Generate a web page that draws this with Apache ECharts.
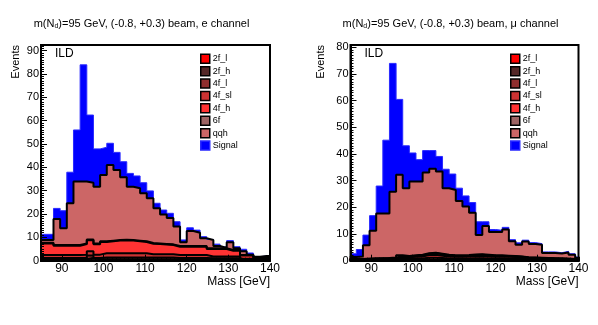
<!DOCTYPE html>
<html>
<head>
<meta charset="utf-8">
<script src="https://cdn.jsdelivr.net/npm/echarts@6/dist/echarts.min.js"></script>
<style>
  html, body { margin: 0; padding: 0; background: #ffffff; }
  #chart { width: 598px; height: 325px; }
</style>
</head>
<body>
<div id="chart"></div>
<script>
// bin edges (GeV), 1.6 GeV bins
var binEdges = [84.8, 86.4, 88.0, 89.6, 91.2, 92.8, 94.4, 96.0, 97.6, 99.2, 100.8, 102.4,
    104.0, 105.6, 107.2, 108.8, 110.4, 112.0, 113.6, 115.2, 116.8, 118.4, 120.0, 121.6,
    123.2, 124.8, 126.4, 128.0, 129.6, 131.2, 132.8, 134.4, 136.0, 137.6, 139.2, 140.8];

// e channel, events per bin for each sample
var e2fL   = [0.2, 0.2, 0.2, 0.2, 0.2, 0.2, 0.2, 0.2, 0.2, 0.2, 0.2, 0.2, 0.2, 0.2, 0.2, 0.2, 0.2, 0.2, 0.2, 0.2, 0.2, 0.2, 0.2, 0.2, 0.2, 0.2, 0.2, 0.2, 0.2, 0.2, 0.1, 0.1, 0.1, 0.1, 0.1];
var e2fH   = [0.4, 0.4, 0.4, 0.4, 0.4, 0.4, 0.4, 1.0, 0.4, 0.4, 0.4, 0.4, 0.4, 0.4, 0.4, 0.4, 0.4, 0.4, 0.4, 0.4, 0.4, 0.4, 0.4, 0.4, 0.4, 0.3, 0.3, 0.3, 0.3, 0.3, 0.2, 0.2, 0.2, 0.2, 0.2];
var e4fL   = [0.6, 0.6, 0.6, 0.6, 0.6, 0.6, 0.6, 1.0, 0.6, 0.8, 0.8, 0.8, 0.8, 0.8, 0.8, 0.8, 0.8, 0.8, 0.8, 0.8, 0.6, 0.6, 0.6, 0.6, 0.6, 0.5, 0.5, 0.5, 0.5, 0.5, 0.2, 0.2, 0.2, 0.2, 0.2];
var e4fSL  = [1.2, 1.2, 1.2, 1.2, 1.2, 1.2, 1.4, 1.8, 1.4, 1.8, 1.8, 1.8, 1.8, 1.8, 1.8, 1.8, 1.4, 1.4, 1.4, 1.4, 1.2, 1.2, 1.2, 1.2, 1.2, 0.8, 0.8, 0.8, 0.8, 0.8, 0.3, 0.3, 0.3, 0.3, 0.3];
var e4fH   = [5.0, 5.0, 4.0, 4.0, 4.0, 4.0, 4.5, 4.8, 4.5, 4.8, 5.1, 5.4, 5.5, 5.4, 5.1, 4.8, 4.5, 4.3, 4.1, 3.9, 3.6, 3.6, 3.6, 3.6, 3.6, 3.2, 3.2, 3.2, 2.5, 2.5, 1.4, 1.4, 0.4, 0.4, 0.4];
var e6f    = [0.3, 0.3, 0.3, 0.3, 0.3, 0.3, 0.3, 0.3, 0.3, 0.3, 0.3, 0.3, 0.3, 0.3, 0.3, 0.3, 0.3, 0.3, 0.3, 0.3, 0.3, 0.3, 0.3, 0.3, 0.3, 0.3, 0.3, 0.3, 0.3, 0.3, 0.2, 0.2, 0.2, 0.2, 0.2];
var eQqh   = [1.2, 1.2, 11.2, 7.2, 17.9, 27.2, 26.5, 24.3, 24.3, 28.4, 32.4, 30.0, 26.7, 22.8, 22.4, 20.6, 19.1, 15.1, 12.6, 11.3, 8.3, 1.6, 6.4, 5.7, 3.3, 3.6, 1.0, 0.2, 3.3, 0.7, 1.7, 0.2, 0.3, 0.6, 0.6];
var eSig   = [2.4, 2.4, 4.5, 7.5, 13.3, 22.1, 50.0, 29.0, 16.2, 11.9, 9.3, 7.5, 6.7, 5.7, 5.3, 4.5, 3.2, 2.1, 1.9, 2.0, 2.1, 1.0, 1.4, 1.1, 0.7, 0.2, 0.8, 0.4, 0.7, 0.7, 0.8, 0.7, 0.0, 0.0, 0.4];

// mu channel
var m2fL   = [0.1, 0.1, 0.1, 0.1, 0.1, 0.1, 0.1, 0.1, 0.1, 0.1, 0.1, 0.1, 0.1, 0.1, 0.1, 0.1, 0.1, 0.1, 0.1, 0.1, 0.1, 0.1, 0.1, 0.1, 0.1, 0.1, 0.1, 0.1, 0.1, 0.1, 0.1, 0.1, 0.1, 0.1, 0.1];
var m2fH   = [0.1, 0.1, 0.1, 0.1, 0.1, 0.1, 0.1, 0.3, 0.2, 0.2, 0.2, 0.3, 0.3, 0.3, 0.2, 0.2, 0.2, 0.2, 0.2, 0.2, 0.2, 0.2, 0.2, 0.2, 0.2, 0.2, 0.1, 0.1, 0.1, 0.1, 0.1, 0.1, 0.1, 0.1, 0.1];
var m4fL   = [0.1, 0.1, 0.2, 0.2, 0.2, 0.2, 0.3, 0.5, 0.4, 0.5, 0.5, 0.7, 0.7, 0.6, 0.5, 0.5, 0.5, 0.5, 0.6, 0.6, 0.5, 0.5, 0.5, 0.5, 0.4, 0.4, 0.3, 0.3, 0.3, 0.3, 0.2, 0.2, 0.2, 0.1, 0.1];
var m4fSL  = [0.2, 0.2, 0.2, 0.3, 0.3, 0.4, 0.4, 0.6, 0.6, 0.7, 0.8, 1.0, 1.1, 0.9, 0.8, 0.7, 0.7, 0.8, 0.8, 0.9, 0.8, 0.7, 0.7, 0.7, 0.7, 0.6, 0.5, 0.4, 0.4, 0.4, 0.3, 0.3, 0.2, 0.2, 0.1];
var m4fH   = [0.1, 0.1, 0.1, 0.1, 0.1, 0.1, 0.2, 0.3, 0.3, 0.3, 0.4, 0.5, 0.6, 0.5, 0.4, 0.3, 0.3, 0.3, 0.4, 0.4, 0.4, 0.3, 0.3, 0.3, 0.3, 0.2, 0.2, 0.2, 0.1, 0.1, 0.1, 0.1, 0.1, 0.1, 0.1];
var m6f    = [0.0, 0.0, 0.0, 0.0, 0.1, 0.1, 0.1, 0.2, 0.2, 0.2, 0.2, 0.2, 0.2, 0.2, 0.2, 0.2, 0.2, 0.2, 0.2, 0.2, 0.2, 0.2, 0.2, 0.1, 0.1, 0.1, 0.1, 0.1, 0.1, 0.0, 0.1, 0.0, 0.0, 0.0, 0.0];
var mQqh   = [0.8, 1.0, 5.1, 10.4, 16.8, 16.7, 24.7, 30.2, 25.4, 27.7, 27.5, 30.3, 31.5, 30.9, 25.0, 24.5, 20.4, 18.2, 15.7, 7.2, 10.8, 8.8, 8.8, 9.8, 5.5, 4.4, 5.9, 5.1, 4.9, 1.9, 2.0, 1.9, 2.4, 1.6, 0.6];
var mSig   = [1.2, 2.6, 3.8, 5.7, 10.3, 27.5, 48.1, 28.3, 15.9, 10.7, 8.2, 8.2, 6.8, 5.6, 7.1, 6.0, 4.8, 4.0, 3.8, 5.0, 1.6, 0.9, 0.6, 0.8, 0.6, 0.7, 0.5, 0.5, 0.4, 0.4, 0.4, 0.3, 0.4, 0.4, 0.3];

var sampleNames = ["2f_l", "2f_h", "4f_l", "4f_sl", "4f_h", "6f", "qqh", "Signal"];
var eSamples = [e2fL, e2fH, e4fL, e4fSL, e4fH, e6f, eQqh, eSig];
var mSamples = [m2fL, m2fH, m4fL, m4fSL, m4fH, m6f, mQqh, mSig];

var fills = ["#ff0000", "#552828", "#8f2e2e", "#cc3333", "#ff3333", "#9e6464", "#cc6666", "#0000ff"];
var FONT = "Liberation Sans, Arial, Helvetica, sans-serif";

var chart = echarts.init(document.getElementById("chart"));

// cumulative heights, bottom of stack first (THStack style)
function stackUp(samples) {
    var run = samples[0].map(function () { return 0; });
    return samples.map(function (vals) {
        run = run.map(function (v, i) { return v + vals[i]; });
        return run.slice();
    });
}

function stepPoints(vals) {
    return binEdges.map(function (x, i) {
        return [x, vals[Math.min(i, vals.length - 1)]];
    });
}

var grids = [], xAxes = [], yAxes = [], series = [], legends = [], titles = [];

function addPanel(idx, samples, left, width, yMax, titleX, channel, nameGapY, legendX) {
    grids.push({
        left: left, top: 45, width: width, height: 215.7,
        show: true, borderColor: "#000", borderWidth: 2, backgroundColor: "#fff",
        outerBoundsMode: "none", containLabel: false
    });
    xAxes.push({
        gridIndex: idx, type: "value", min: 85, max: 140, splitNumber: 5, z: 5,
        axisLine: { show: true, onZero: false, lineStyle: { color: "#000", width: 2 } },
        axisTick: { show: true, inside: true, length: 6, lineStyle: { color: "#000" } },
        minorTick: { show: true, splitNumber: 10, length: 3, lineStyle: { color: "#000" } },
        splitLine: { show: false },
        axisLabel: { showMinLabel: false, color: "#000", fontSize: 12, margin: 2, fontFamily: FONT },
        name: "Mass [GeV]", nameLocation: "end", nameGap: 0, nameMoveOverlap: false,
        nameTextStyle: { align: "right", verticalAlign: "top", padding: [15, 0, 0, 0],
            fontSize: 12, color: "#000", fontFamily: FONT }
    });
    yAxes.push({
        gridIndex: idx, type: "value", min: 0, max: yMax, interval: 10, z: 5,
        axisLine: { show: true, lineStyle: { color: "#000", width: 2 } },
        axisTick: { show: true, inside: true, length: 6, lineStyle: { color: "#000" } },
        minorTick: { show: true, splitNumber: 10, length: 3, lineStyle: { color: "#000" } },
        splitLine: { show: false },
        axisLabel: {
            color: "#000", fontSize: 11, margin: 2, fontFamily: FONT,
            formatter: function (v) { return v % 10 === 0 ? String(v) : ""; }
        },
        name: "Events", nameLocation: "end", nameRotate: 90, nameGap: 0, nameMoveOverlap: false,
        nameTextStyle: { align: "right", verticalAlign: "bottom", padding: [0, 0, nameGapY, 0],
            fontSize: 11, color: "#000", fontFamily: FONT }
    });

    var cum = stackUp(samples);
    for (var k = sampleNames.length - 1; k >= 0; k--) {
        var isSig = sampleNames[k] === "Signal";
        series.push({
            type: "line", name: sampleNames[k], xAxisIndex: idx, yAxisIndex: idx,
            data: stepPoints(cum[k]), step: "end", symbol: "none", showSymbol: false,
            silent: true, animation: false, clip: true,
            itemStyle: { color: fills[k] },
            lineStyle: { color: isSig ? "#2a2aff" : "#000", width: isSig ? 1 : 2 },
            areaStyle: { color: fills[k], opacity: 1 },
            emphasis: { disabled: true }
        });
    }

    legends.push({
        orient: "vertical", left: legendX, top: 53.5, padding: 0,
        itemWidth: 9, itemHeight: 9, itemGap: 1.9, icon: "rect",
        selectedMode: false,
        textStyle: { fontSize: 9, lineHeight: 9, color: "#000", fontFamily: FONT, padding: [0, 0, 0, -2] },
        data: sampleNames.map(function (n, i) {
            return {
                name: n,
                itemStyle: {
                    color: fills[i], borderColor: n === "Signal" ? "#2a2aff" : "#000",
                    borderWidth: 1.5
                }
            };
        })
    });

    titles.push({
        text: "m(N{s|d})=95 GeV, (-0.8, +0.3) beam, " + channel + " channel",
        left: titleX, top: 18, textAlign: "center", padding: 0,
        textStyle: {
            fontSize: 11, fontWeight: "normal", color: "#000", fontFamily: FONT,
            rich: { s: { fontSize: 7, verticalAlign: "bottom", padding: [5, 0, 0, 0], color: "#000", fontFamily: FONT } }
        }
    });
    titles.push({
        text: "ILD", left: left + 14, top: 48, padding: 0,
        textStyle: { fontSize: 12, fontWeight: "normal", color: "#000", fontFamily: FONT }
    });
}

addPanel(0, eSamples, 41, 229, 92.4, 141.5, "e", 20, 200);
addPanel(1, mSamples, 350.5, 228, 80.9, 450.5, "\u03bc", 24, 510);

chart.setOption({
    animation: false,
    backgroundColor: "#fff",
    title: titles,
    grid: grids,
    xAxis: xAxes,
    yAxis: yAxes,
    legend: legends,
    series: series
});
</script>
</body>
</html>
